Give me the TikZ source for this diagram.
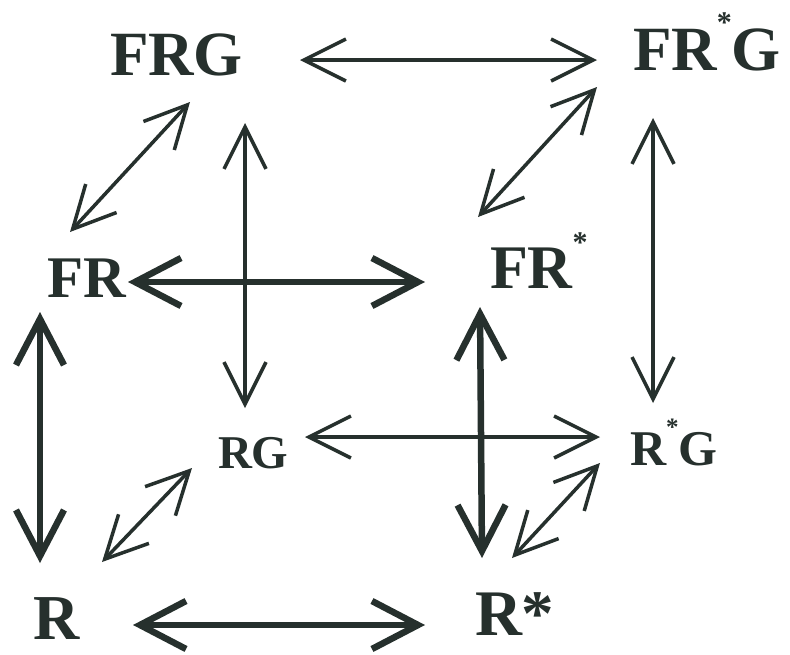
\documentclass[tikz,border=0pt]{standalone}
\usepackage{fontspec}
\setmainfont{Liberation Serif}
\usetikzlibrary{arrows.meta}
\definecolor{ink}{RGB}{38,48,45}
\newcommand{\lbl}[1]{\fontsize{#1}{#1}\selectfont\bfseries}
\newcommand{\smallstar}[2]{\raisebox{#2pt}{\fontsize{#1}{#1}\selectfont *}}
\begin{document}
\begin{tikzpicture}[x=1pt,y=-1pt,
  lab/.style={inner sep=0pt,outer sep=0pt,anchor=base west,text=ink},
  thinarr/.style={draw=ink,line width=3.5pt,line cap=round,line join=round,
    {Straight Barb[length=42pt,width=42pt]}-{Straight Barb[length=42pt,width=42pt]}},
  thickarr/.style={draw=ink,line width=6.5pt,line cap=round,line join=round,
    {Straight Barb[length=46pt,width=48pt]}-{Straight Barb[length=46pt,width=48pt]}}]
\fill[white] (0,0) rectangle (790,654);
\useasboundingbox (0,0) rectangle (790,654);
% labels
\node[lab] (frg)  at (110,75)  {\lbl{63}FRG};
\node[lab] (frsg) at (633,70)  {\lbl{63}FR\smallstar{30}{38}G};
\node[lab] (fr)   at (47,297)  {\lbl{59}FR};
\node[lab] (frs)  at (490,288) {\lbl{62}FR\smallstar{30}{36}};
\node[lab] (rg)   at (218,468) {\lbl{47}RG};
\node[lab] (rsg)  at (630,465) {\lbl{50}R\smallstar{25}{30}G};
\node[lab] (r)    at (33,639)  {\lbl{64}R};
\node[lab] (rs)   at (475,635) {\lbl{65}R*};
% top face
\draw[thinarr] ([shift={(190,-15)}]frg.base west) -- ([shift={(-36,-10)}]frsg.base west);
\draw[thinarr] ([shift={(80,27)}]frg.base west) -- ([shift={(23,-65)}]fr.base west);
\draw[thinarr] ([shift={(-36,17)}]frsg.base west) -- ([shift={(-12,-71)}]frs.base west);
% verticals (back)
\draw[thinarr] ([shift={(135,48)}]frg.base west) -- ([shift={(27,-60)}]rg.base west);
\draw[thinarr] ([shift={(20,48)}]frsg.base west) -- ([shift={(23,-62)}]rsg.base west);
% back bottom
\draw[thinarr] ([shift={(87,-31)}]rg.base west) -- ([shift={(-30,-28)}]rsg.base west);
\draw[thinarr] ([shift={(-26,0)}]rg.base west) -- ([shift={(69,-77)}]r.base west);
\draw[thinarr] ([shift={(-30,-2)}]rsg.base west) -- ([shift={(37,-77)}]rs.base west);
% front face (thick)
\draw[thickarr] ([shift={(81,-15)}]fr.base west) -- ([shift={(-65,-6)}]frs.base west);
\draw[thickarr] ([shift={(-7,15)}]fr.base west) -- ([shift={(7,-76)}]r.base west);
\draw[thickarr] ([shift={(-10,19)}]frs.base west) -- ([shift={(7,-77)}]rs.base west);
\draw[thickarr] ([shift={(100,-14)}]r.base west) -- ([shift={(-50,-10)}]rs.base west);
\end{tikzpicture}
\end{document}
